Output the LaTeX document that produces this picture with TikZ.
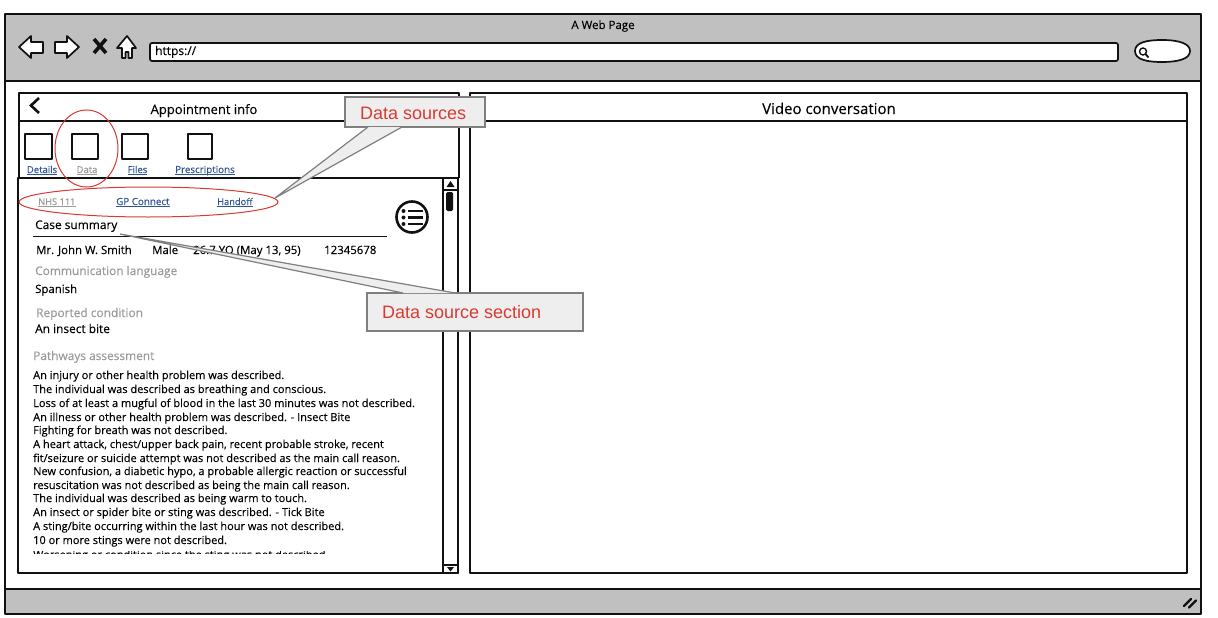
\documentclass[tikz,border=0pt]{standalone}
\usepackage{fontspec}
\setmainfont[FakeBold=0.2]{Open Sans}
\newfontfamily\calloutfont{Liberation Sans}
\usetikzlibrary{calc}
\definecolor{chrome}{HTML}{C0C0C0}
\definecolor{ink}{HTML}{111111}
\definecolor{muted}{HTML}{9A9A9A}
\definecolor{linkblue}{HTML}{2F5597}
\definecolor{redmark}{HTML}{D93A32}
\definecolor{calloutfill}{HTML}{EEEEEE}
\definecolor{calloutline}{HTML}{7F7F7F}
\tikzset{
 x=1pt,y=-1pt,
 wire/.style={draw=ink,line width=1.7pt,line join=round},
 wirethin/.style={draw=ink,line width=1.3pt,line join=round},
 body/.style={anchor=base west,inner sep=0pt,font=\fontsize{11}{13}\selectfont,text=black},
 label/.style={anchor=base west,inner sep=0pt,font=\fontsize{11.4}{13}\selectfont,text=black},
 labelbig/.style={anchor=base west,inner sep=0pt,font=\fontsize{11.9}{14}\selectfont,text=black},
 faded/.style={anchor=base west,inner sep=0pt,font=\fontsize{11.9}{14}\selectfont,text=muted},
 tablink/.style={anchor=base,inner sep=0pt,font=\fontsize{9.5}{11}\selectfont,text=linkblue},
 heading/.style={anchor=base,inner sep=0pt,font=\fontsize{13}{15}\selectfont,text=black},
 redring/.style={draw=redmark,line width=1pt},
 callout/.style={draw=calloutline,fill=calloutfill,line width=1.2pt,line join=miter},
 callouttext/.style={anchor=base west,inner sep=0pt,font=\calloutfont\fontsize{18}{20}\selectfont,text=redmark},
}
\newcommand{\ul}[1]{\setbox0\hbox{#1}\rlap{\rule[-1.6pt]{\wd0}{0.8pt}}\box0}
\begin{document}
\begin{tikzpicture}
\useasboundingbox (0,0) rectangle (1218,618);
\fill[white] (0,0) rectangle (1218,618);
% browser window
\fill[chrome] (5,14) rectangle (1201,81);
\fill[chrome] (5,589) rectangle (1201,614);
\draw[wire] (5,14) rectangle (1201,614);
\draw[wire] (5,81) -- (1201,81);
\draw[wire] (5,589) -- (1201,589);
\node[anchor=base,inner sep=0pt,font=\fontsize{11.5}{13}\selectfont] (pagetitle) at (603,29) {A Web Page};
% navigation icons
\draw[wire,fill=white] (19,47) -- (31,36) -- (31,42) -- (43,42) -- (43,53) -- (31,53) -- (31,58) -- cycle;
\draw[wire,fill=white] (79,47) -- (67,36) -- (67,42) -- (55,42) -- (55,53) -- (67,53) -- (67,58) -- cycle;
\draw[draw=ink,line width=3.6pt] (94,39) -- (106,53) (106,39) -- (94,53);
\draw[wire,fill=white] (127,36) -- (136,48) -- (132,48) -- (132,58) -- (128.5,58) -- (128.5,52) -- (125.5,52) -- (125.5,58) -- (122,58) -- (122,48) -- (117,48) -- cycle;
% address bar
\draw[wire,fill=white,rounded corners=2pt] (150,43) rectangle (1118,61);
\node[body,font=\fontsize{12}{14}\selectfont] (url) at (155,55) {https://};
\draw[wire,fill=white] (1135,51) .. controls (1135,42) and (1148,40) .. (1162,40) .. controls (1180,40) and (1190,44) .. (1190,51) .. controls (1190,59) and (1178,62) .. (1162,62) .. controls (1148,62) and (1135,60) .. (1135,51) -- cycle;
\draw[draw=ink,line width=1.4pt] (1143,51.5) circle (3.5pt);
\draw[draw=ink,line width=1.8pt] (1145.5,54) -- (1148.5,57.5);
% left panel
\draw[wire] (19,93) rectangle (459,121);
\draw[wire] (459,121) -- (459,178);
\draw[wire] (19,121) -- (19,178);
\draw[draw=ink,line width=2.6pt,line join=miter] (39,98) -- (31,105.5) -- (39,113);
\node[heading] (apptitle) at (204,114) {Appointment info};
% tabs
\foreach \xa/\xb in {25/52,72/98,122/148,188/212}{
  \draw[wire] (\xa,134) rectangle (\xb,159);
}
\node[tablink] (tabdetails) at (42,173) {\ul{Details}};
\node[tablink,text=muted] (tabdata) at (87,173) {\ul{Data}};
\node[tablink] (tabfiles) at (137.5,173) {\ul{Files}};
\node[tablink,font=\fontsize{9.8}{11}\selectfont] (tabpres) at (205,173) {\ul{Prescriptions}};
% content box
\draw[wire,fill=white] (18,178) rectangle (458,573);
\draw[wirethin] (443,178) -- (443,573);
\draw[wirethin,fill=white] (443,178) rectangle (458,190);
\fill[ink] (450.5,181) -- (454.5,187) -- (446.5,187) -- cycle;
\draw[wirethin,fill=white] (443,565) rectangle (458,573);
\fill[ink] (447,567) -- (454,567) -- (450.5,571.5) -- cycle;
\fill[ink,rounded corners=1.5pt] (446,192) rectangle (453,211);
% sub-tabs
\node[body,font=\fontsize{9.3}{11}\selectfont,text=muted] (nhs) at (38,205) {\ul{NHS 111}};
\node[body,font=\fontsize{9.8}{11}\selectfont,text=linkblue] (gp) at (116,205) {\ul{GP Connect}};
\node[body,font=\fontsize{9.3}{11}\selectfont,text=linkblue] (handoff) at (217,205) {\ul{Handoff}};
% hamburger icon
\draw[draw=ink,line width=2.6pt] (412,217) circle (15.5pt);
\foreach \yy in {211,217.5,224}{
  \fill[ink] (403.5,\yy) circle (2pt);
  \draw[draw=ink,line width=2.4pt] (408,\yy) -- (423,\yy);
}
% case summary
\node[labelbig] (case) at (35,229) {Case summary};
\draw[draw=ink,line width=1pt] (33,236) -- (387,236);
\node[label] (name) at (36,254) {Mr. John W. Smith};
\node[label] (male) at (152,254) {Male};
\node[label] (age) at (193,254) {26.7 YO (May 13, 95)};
\node[label] (mrn) at (324,254) {12345678};
\node[faded] (lang) at (35,275) {Communication language};
\node[label] (spanish) at (35,293) {Spanish};
\node[faded] (cond) at (36,317) {Reported condition};
\node[labelbig] (bite) at (35,333) {An insect bite};
\node[faded] (path) at (33,360) {Pathways assessment};
\foreach \yy/\ttext in {
 379/{An injury or other health problem was described.},
 393/{The individual was described as breathing and conscious.},
 407/{Loss of at least a mugful of blood in the last 30 minutes was not described.},
 421/{An illness or other health problem was described. - Insect Bite},
 434/{Fighting for breath was not described.},
 448/{A heart attack, chest/upper back pain, recent probable stroke, recent},
 462/{fit/seizure or suicide attempt was not described as the main call reason.},
 475/{New confusion, a diabetic hypo, a probable allergic reaction or successful},
 489/{resuscitation was not described as being the main call reason.},
 502/{The individual was described as being warm to touch.},
 516/{An insect or spider bite or sting was described. - Tick Bite},
 530/{A sting/bite occurring within the last hour was not described.},
 544/{10 or more stings were not described.}}{
  \node[body] at (33,\yy) {\ttext};
}
\begin{scope}
  \clip (30,551.5) rectangle (330,553.8);
  \node[body] (clipped) at (33,558.5) {Worsening or condition since the sting was not described.};
\end{scope}
% right panel
\draw[wire] (470,93) rectangle (1187,573);
\draw[wire] (470,121) -- (1187,121);
\node[heading,font=\fontsize{15}{17}\selectfont] (videotitle) at (829,114) {Video conversation};
% red rings
\draw[redring] (86.5,148.5) ellipse (31.5pt and 38.5pt);
\draw[redring] (148.5,202) ellipse (129.5pt and 15pt);
% callouts
\coordinate (tipa) at (275,198);
\coordinate (tipb) at (120,234);
\draw[callout] (345,97) rectangle (485,127);
\fill[calloutfill] (368,127) -- (tipa) -- (402,127) -- cycle;
\draw[callout,fill=none] (368,127) -- (tipa) -- (402,127);
\node[callouttext] (srcs) at (360,119) {Data sources};
\draw[callout] (367,293) rectangle (583,331);
\fill[calloutfill] (403,293) -- (tipb) -- (455,293) -- cycle;
\draw[callout,fill=none] (403,293) -- (tipb) -- (455,293);
\node[callouttext] (srcsec) at (382,318) {Data source section};
% resize grip
\draw[draw=ink,line width=2.2pt,line cap=round] (1184,606) -- (1191,599) (1189,607.5) -- (1196,600.5);
\end{tikzpicture}
\end{document}
